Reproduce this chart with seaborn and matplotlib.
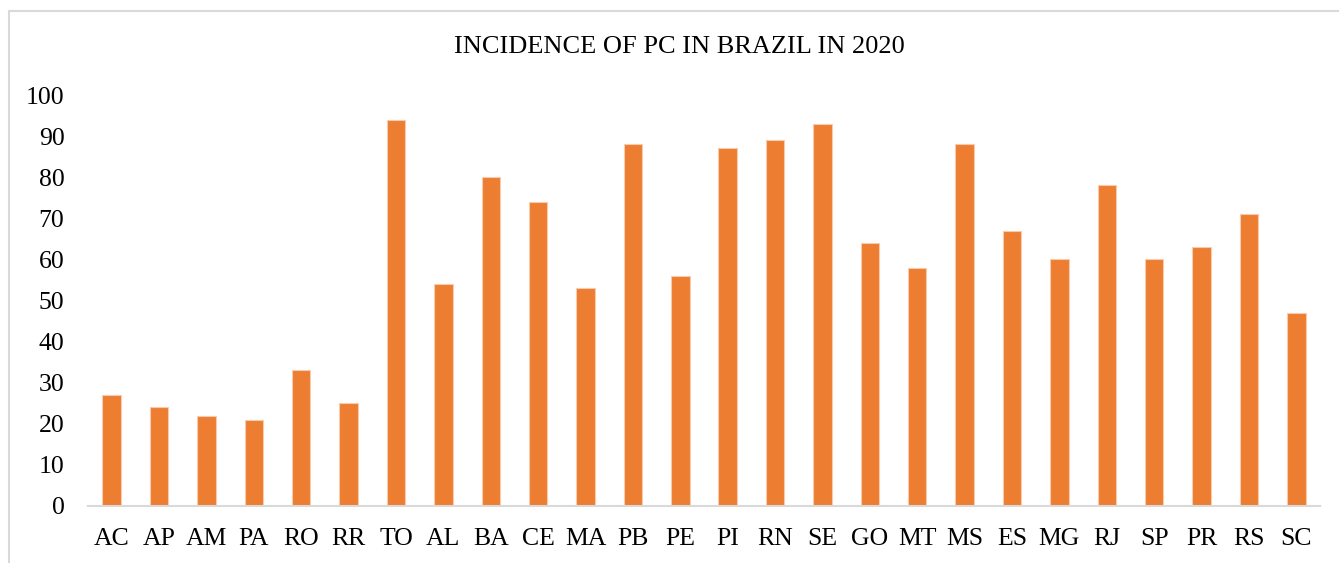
import matplotlib
matplotlib.use("Agg")
import matplotlib.pyplot as plt
import matplotlib.lines as mlines
import seaborn as sns
import pandas as pd

# Incidence values by Brazilian state (2020)
states = ["AC", "AP", "AM", "PA", "RO", "RR", "TO", "AL", "BA", "CE", "MA", "PB", "PE", "PI",
          "RN", "SE", "GO", "MT", "MS", "ES", "MG", "RJ", "SP", "PR", "RS", "SC"]
incidence = [27, 24, 22, 21, 33, 25, 94, 54, 80, 74, 53, 88, 56, 87,
             89, 93, 64, 58, 88, 67, 60, 78, 60, 63, 71, 47]
y_ticks = [0, 10, 20, 30, 40, 50, 60, 70, 80, 90, 100]
title = "INCIDENCE OF PC IN BRAZIL IN 2020"

df = pd.DataFrame({"state": states, "incidence": incidence})

sns.set_theme(style="white")
plt.rcParams["font.family"] = ["Liberation Serif", "DejaVu Serif"]

fig = plt.figure(figsize=(13.39, 5.63), dpi=100)
ax = fig.add_axes([88 / 1339, 1 - 506 / 563, (1320 - 88) / 1339, (506 - 95) / 563])

sns.barplot(data=df, x="state", y="incidence", color="#ED7D31", saturation=1,
            width=0.39, edgecolor="#F8CBAD", linewidth=0.8, ax=ax)

ax.set_ylim(0, 100)
ax.set_xlim(-0.5, len(states) - 0.5)
ax.set_yticks(y_ticks)
ax.set_yticklabels([str(t) for t in y_ticks], fontsize=18.5, color="#000000")
ax.tick_params(axis="y", length=0, pad=17)
ax.tick_params(axis="x", length=0, pad=16, labelsize=18.5, labelcolor="#000000")
ax.set_xlabel("")
ax.set_ylabel("")

for side in ["top", "right", "left"]:
    ax.spines[side].set_visible(False)
ax.spines["bottom"].set_color("#D9D9D9")
ax.spines["bottom"].set_linewidth(1.5)

fig.text(0.5 * (452 + 907) / 1339, 1 - 47 / 563, title, ha="center", va="center",
         fontsize=19, color="#000000")

# Chart-area border (left and top edges)
fig.add_artist(mlines.Line2D([8.5 / 1339, 8.5 / 1339], [0, 1 - 10.5 / 563],
                             transform=fig.transFigure, color="#D9D9D9", linewidth=1.5))
fig.add_artist(mlines.Line2D([8.5 / 1339, 1], [1 - 10.5 / 563, 1 - 10.5 / 563],
                             transform=fig.transFigure, color="#D9D9D9", linewidth=1.5))

fig.savefig("out.png", dpi=100)
